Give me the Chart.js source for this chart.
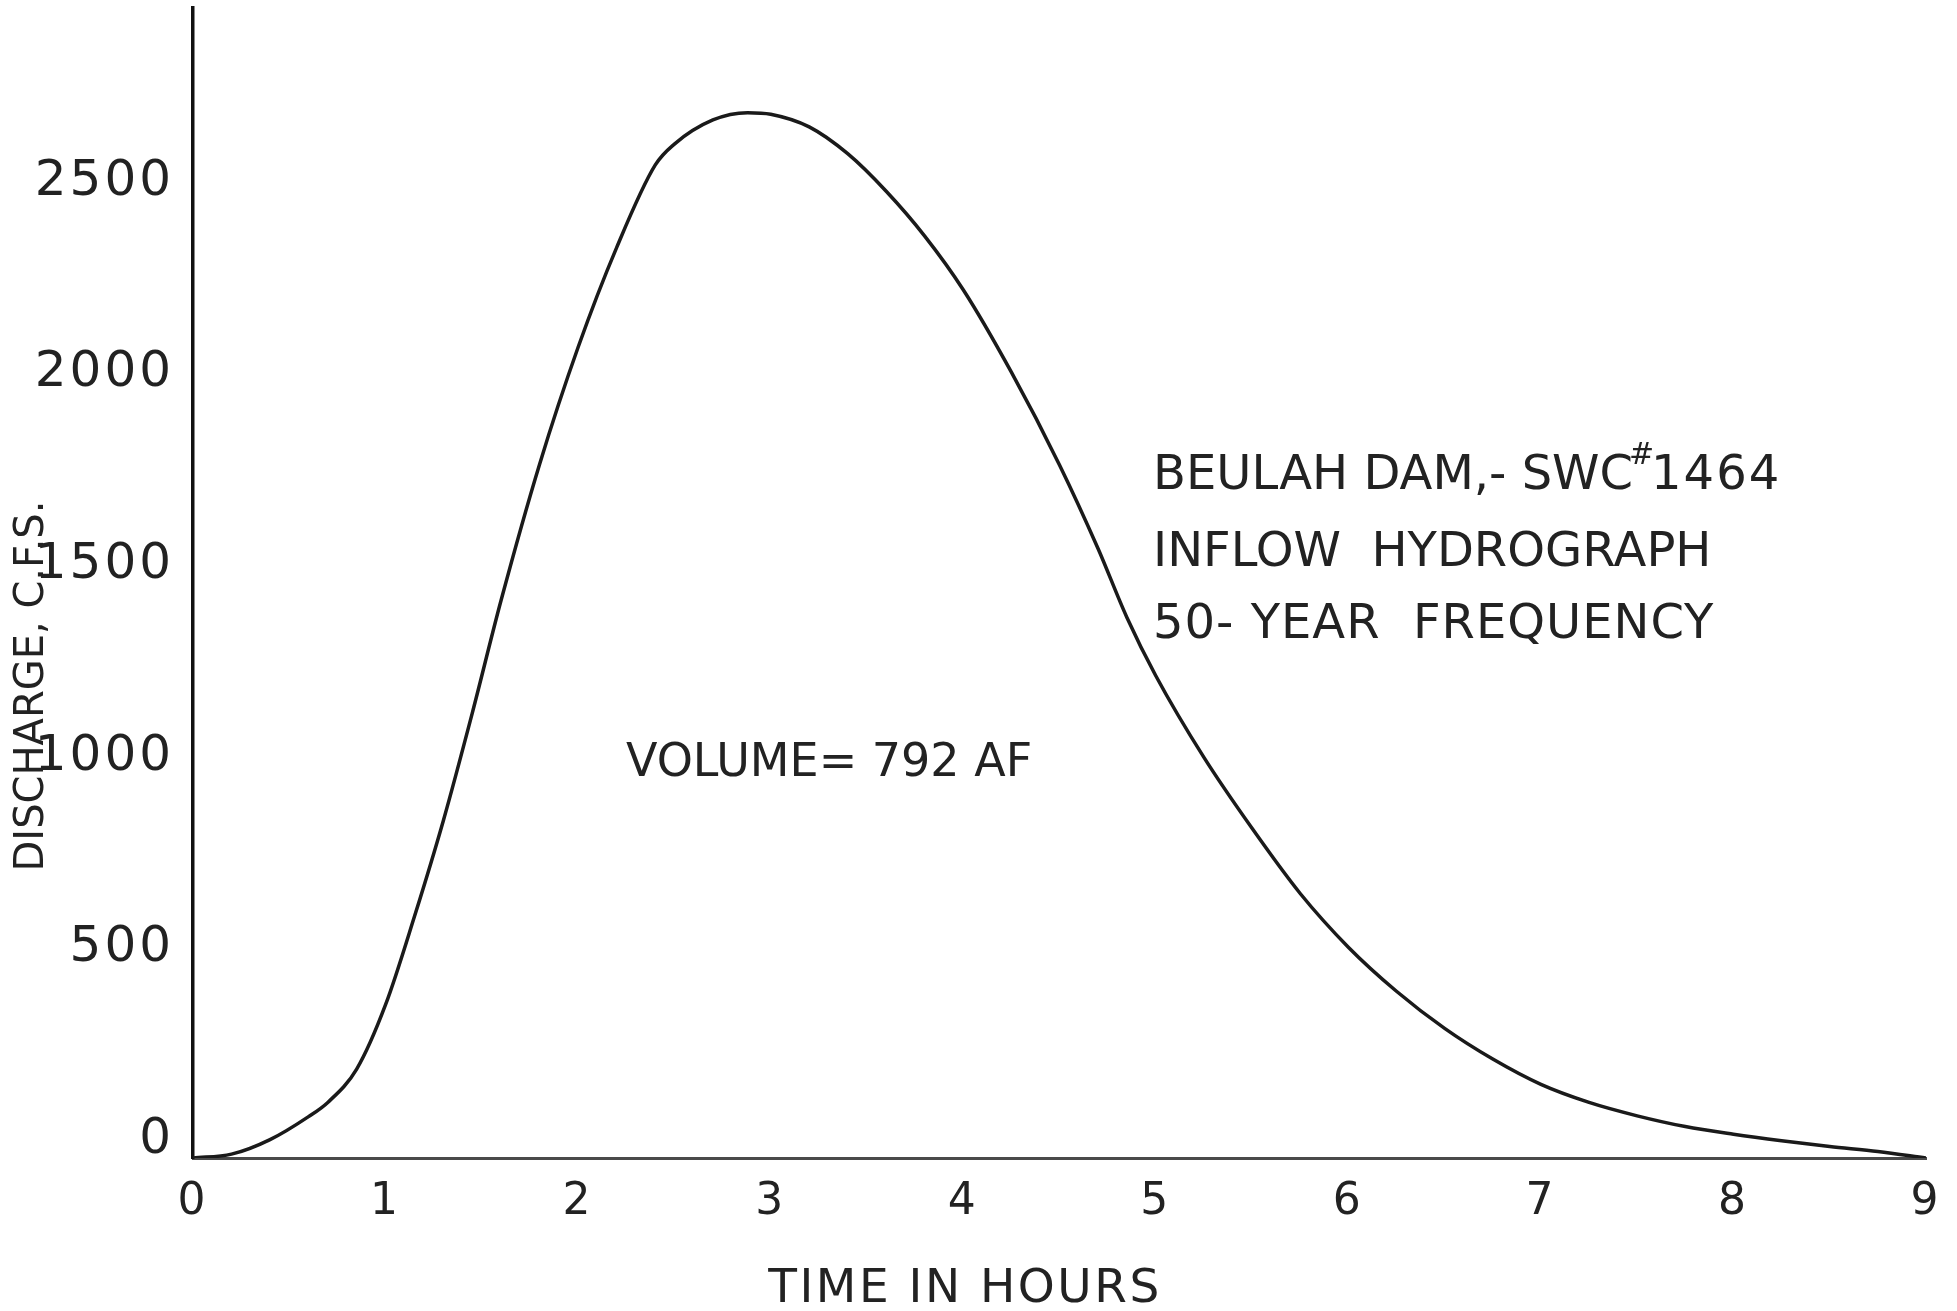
<!DOCTYPE html>
<html>
<head>
<meta charset="utf-8">
<script src="https://cdn.jsdelivr.net/npm/chart.js@4.4.1/dist/chart.umd.min.js"></script>
<style>
  html, body { margin: 0; padding: 0; background: #ffffff; }
  #wrap { width: 1957px; height: 1311px; position: relative; }
</style>
</head>
<body>
<div id="wrap"><canvas id="c" width="1957" height="1311"></canvas></div>
<script>
// ---- data ----
const hours = [0, 0.2, 0.4, 0.6, 0.7, 0.85, 1.0, 1.15, 1.3, 1.45, 1.6, 1.8, 2.0, 2.2, 2.4, 2.5, 2.7, 2.88, 3.0, 3.2, 3.4, 3.6, 3.8, 4.0, 4.25, 4.5, 4.7, 4.85, 5.0, 5.25, 5.5, 5.75, 6.0, 6.25, 6.5, 6.75, 7.0, 7.25, 7.5, 7.75, 8.0, 8.25, 8.5, 8.75, 9.0];
const discharge = [0, 10, 48, 108, 145, 232, 400, 630, 880, 1160, 1455, 1810, 2115, 2375, 2590, 2645, 2708, 2727, 2723, 2690, 2620, 2522, 2405, 2265, 2050, 1808, 1590, 1410, 1258, 1045, 860, 690, 550, 435, 338, 258, 192, 145, 110, 82, 62, 45, 30, 17, 0];
const xTickValues = [0, 1, 2, 3, 4, 5, 6, 7, 8, 9];
const yTickValues = [0, 500, 1000, 1500, 2000, 2500];
const xTitle = 'TIME IN HOURS';
const yTitle = 'DISCHARGE, C.F.S.';
const volumeNote = 'VOLUME= 792 AF';
const titleLines = ['BEULAH DAM,- SWC', 'INFLOW  HYDROGRAPH', '50- YEAR  FREQUENCY'];
const titleNumber = '1464';
const titleMark = '#';

const points = hours.map((h, i) => ({ x: h, y: discharge[i] }));
const INK = '#222222';
const FONT = '"DejaVu Sans", sans-serif';

const spacingPlugin = {
  id: 'spacing',
  beforeDraw(chart) { chart.ctx.letterSpacing = '3px'; }
};

const textPlugin = {
  id: 'texts',
  afterDraw(chart) {
    const ctx = chart.ctx;
    ctx.save();
    ctx.fillStyle = INK;
    ctx.textBaseline = 'alphabetic';
    ctx.letterSpacing = '0px';
    // y-axis title (rotated)
    ctx.save();
    ctx.translate(43, 686);
    ctx.rotate(-Math.PI / 2);
    ctx.font = '40px ' + FONT;
    ctx.textAlign = 'center';
    ctx.fillText(yTitle, 0, 0);
    ctx.restore();
    // x-axis title
    ctx.letterSpacing = '2.5px';
    ctx.font = '47px ' + FONT;
    ctx.textAlign = 'center';
    ctx.fillText(xTitle, 965, 1285 + 0.3645 * 47);
    ctx.letterSpacing = '0px';
    // volume note
    ctx.textAlign = 'left';
    ctx.font = '46px ' + FONT;
    ctx.fillText(volumeNote, 626, 759 + 0.3645 * 46);
    // title block
    const size = 48;
    const ys = [472, 549, 621];
    titleLines.forEach((t, i) => {
      ctx.font = size + 'px ' + FONT;
      ctx.letterSpacing = i === 2 ? '1px' : '0px';
      ctx.fillText(t, 1153, ys[i] + 0.3645 * size);
      if (i === 0) {
        const w = ctx.measureText(t).width;
        ctx.font = '30px ' + FONT;
        ctx.fillText(titleMark, 1153 + w - 4, ys[i] - 8);
        ctx.font = size + 'px ' + FONT;
        ctx.letterSpacing = '2px';
        ctx.fillText(titleNumber, 1153 + w + 18, ys[i] + 0.3645 * size);
      }
    });
    ctx.restore();
  }
};

new Chart(document.getElementById('c'), {
  type: 'line',
  data: {
    datasets: [{
      data: points,
      borderColor: '#1a1a1a',
      borderWidth: 3.5,
      pointRadius: 0,
      fill: false,
      cubicInterpolationMode: 'monotone'
    }]
  },
  options: {
    responsive: false,
    devicePixelRatio: 1,
    animation: false,
    layout: { padding: { top: 8, right: 31, bottom: 0, left: 0 } },
    plugins: { legend: { display: false }, tooltip: { enabled: false }, title: { display: false } },
    scales: {
      x: {
        type: 'linear',
        min: 0, max: 9,
        afterBuildTicks: (s) => { s.ticks = xTickValues.map(v => ({ value: v })); },
        afterFit: (s) => { s.height = 153; s.paddingLeft = 0; s.paddingRight = 0; },
        grid: { display: false, drawTicks: false },
        border: { display: true, color: '#4a4a4a', width: 3 },
        ticks: {
          padding: 18,
          color: INK,
          font: { family: 'DejaVu Sans', size: 44 },
          callback: (v) => String(v),
          maxRotation: 0
        }
      },
      y: {
        type: 'linear',
        min: 0, max: 3000,
        afterBuildTicks: (s) => { s.ticks = yTickValues.map(v => ({ value: v })); },
        afterFit: (s) => { s.width = 193; s.paddingTop = 0; s.paddingBottom = 0; },
        grid: { display: false, drawTicks: false },
        border: { display: true, color: '#111111', width: 3.5 },
        ticks: {
          padding: 19,
          labelOffset: -18,
          color: INK,
          font: { family: 'DejaVu Sans', size: 50 },
          callback: (v) => String(v)
        }
      }
    }
  },
  plugins: [spacingPlugin, textPlugin]
});
</script>
</body>
</html>
